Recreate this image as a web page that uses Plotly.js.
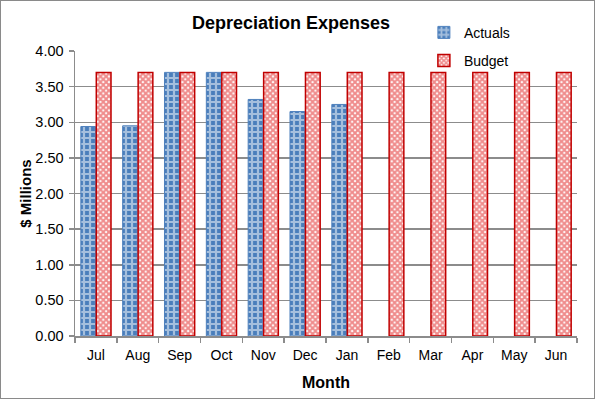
<!DOCTYPE html>
<html>
<head>
<meta charset="utf-8">
<script src="https://cdn.plot.ly/plotly-3.0.1.min.js"></script>
<style>
html,body{margin:0;padding:0;background:#fff;}
#chart{width:595px;height:399px;box-sizing:border-box;border:1.5px solid #8a8a8a;}
</style>
</head>
<body>
<div id="chart"></div>
<script>
var months = ["Jul","Aug","Sep","Oct","Nov","Dec","Jan","Feb","Mar","Apr","May","Jun"];
var actuals = [2.94, 2.95, 3.70, 3.70, 3.32, 3.15, 3.25, null, null, null, null, null];
var budget = [3.70, 3.70, 3.70, 3.70, 3.70, 3.70, 3.70, 3.70, 3.70, 3.70, 3.70, 3.70];
var yTicks = [0, 0.5, 1, 1.5, 2, 2.5, 3, 3.5, 4];

var font = "Liberation Sans, Arial, sans-serif";

var traces = [
  {
    type: "bar", name: "Actuals", x: months, y: actuals, legendgroup: "a",
    marker: {
      color: "#4a7ebb",
      line: {color: "#4f81bd", width: 1},
      pattern: {shape: "+", fgcolor: "#ffffff", size: 6, solidity: 0.6, fillmode: "overlay"}
    },
    hoverinfo: "x+y"
  },
  {
    type: "bar", name: "Budget", x: months, y: budget, legendgroup: "b",
    marker: {
      color: "#ffffff",
      line: {color: "#c00000", width: 1.5},
      pattern: {shape: "x", fgcolor: "#e01818", size: 4, solidity: 0.75, fillmode: "overlay"}
    },
    hoverinfo: "x+y"
  }
];

var layout = {
  width: 592, height: 396,
  margin: {l: 74, r: 16, t: 50, b: 61, autoexpand: false},
  paper_bgcolor: "#ffffff", plot_bgcolor: "#ffffff",
  font: {family: font, color: "#000000", size: 14},
  title: {text: "<b>Depreciation Expenses</b>", font: {family: font, size: 18, color: "#000"}, x: 0.49, xanchor: "center", y: 0.945, yanchor: "middle"},
  barmode: "group", bargap: 0.26, bargroupgap: 0.05,
  showlegend: true,
  legend: {x: 0.695, y: 1.12, xanchor: "left", yanchor: "top", font: {family: font, size: 14, color: "#000"}, tracegroupgap: 7, bgcolor: "rgba(0,0,0,0)", itemwidth: 30},
  xaxis: {
    type: "category", categoryorder: "array", categoryarray: months,
    title: {text: "<b>Month</b>", font: {family: font, size: 16, color: "#000"}, standoff: 14},
    showline: true, linecolor: "#8c8c8c", linewidth: 1.5,
    ticks: "outside", tickson: "boundaries", ticklen: 5, tickcolor: "#8c8c8c", tickwidth: 1.5,
    ticklabelstandoff: 6, tickangle: 0,
    showgrid: false, tickfont: {family: font, size: 14, color: "#000"}, zeroline: false
  },
  yaxis: {
    range: [0, 4], tickvals: yTicks, tickformat: ".2f",
    title: {text: "<b>$ Millions</b>", font: {family: font, size: 15, color: "#000"}, standoff: 0},
    showline: true, linecolor: "#8c8c8c", linewidth: 1.5,
    ticks: "outside", ticklen: 5, tickcolor: "#8c8c8c", tickwidth: 1.5,
    ticklabelstandoff: 2,
    showgrid: true, gridcolor: "#8c8c8c", gridwidth: 1.5,
    zeroline: false, tickfont: {family: font, size: 14.5, color: "#000"}
  }
};

Plotly.newPlot("chart", traces, layout, {displayModeBar: false, staticPlot: true});
</script>
</body>
</html>
